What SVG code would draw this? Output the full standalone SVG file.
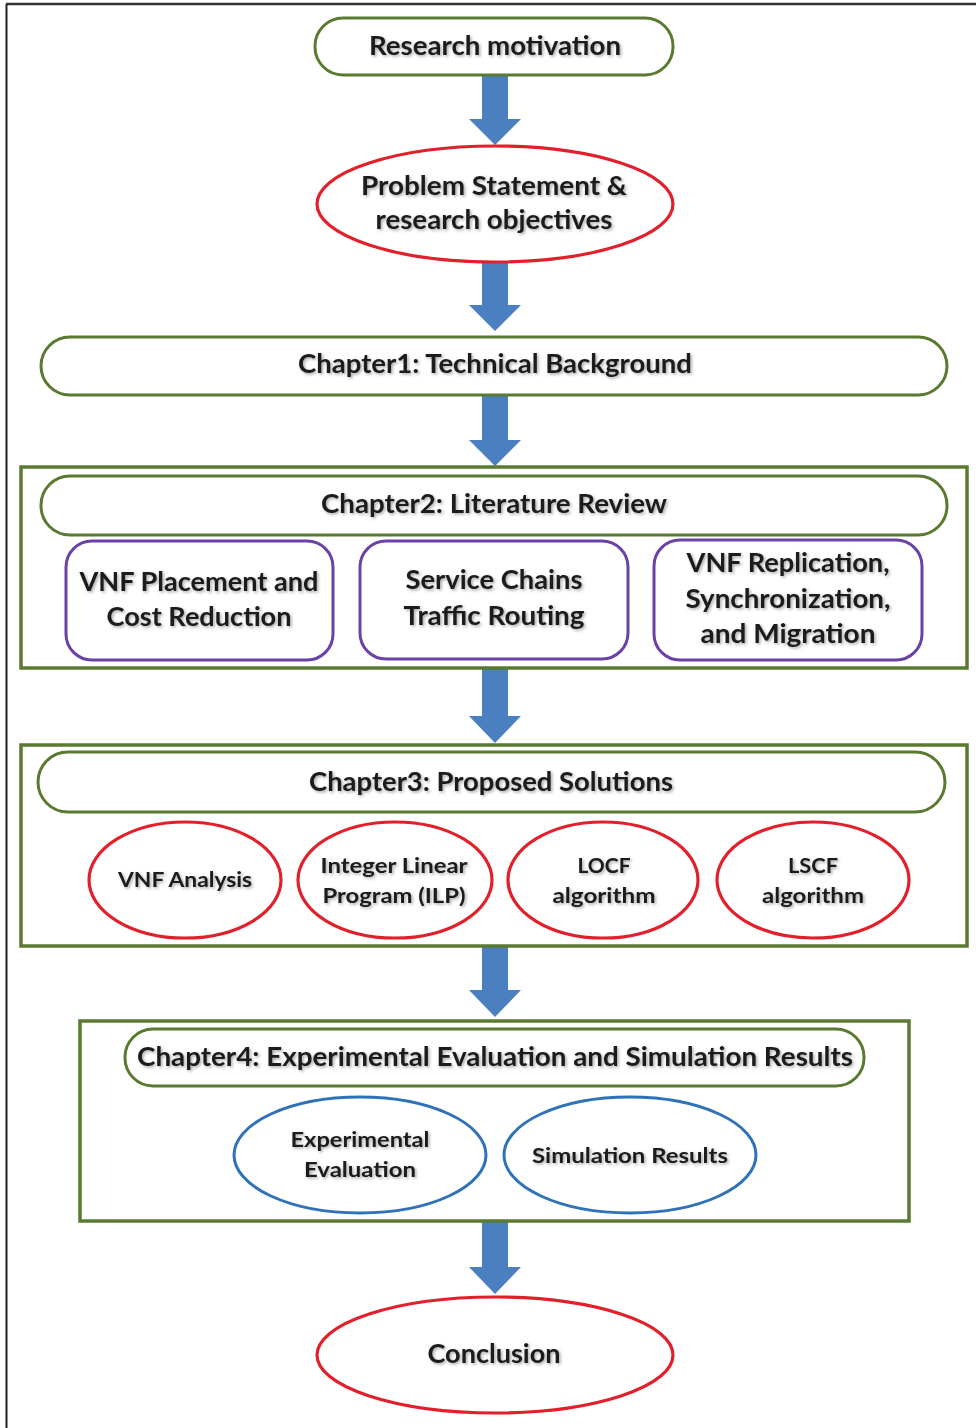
<svg xmlns="http://www.w3.org/2000/svg" width="976" height="1428" viewBox="0 0 976 1428">
<defs>
<filter id="sh" x="-10%" y="-30%" width="120%" height="160%">
<feDropShadow dx="1.5" dy="1.5" stdDeviation="1.5" flood-color="#000" flood-opacity="0.35"/>
</filter>
</defs>
<style>
.g{fill:#fff;stroke:#5a7a30;stroke-width:3}
.frame{fill:none;stroke:#5a7a30;stroke-width:3.5}
.r{fill:#fff;stroke:#e2202b;stroke-width:3.2}
.p{fill:#fff;stroke:#6a42a6;stroke-width:3}
.b{fill:#fff;stroke:#2f72b8;stroke-width:3}
.arr{fill:#4a7fc0}
text{font-family:"Lato","Liberation Sans",sans-serif;font-weight:bold;fill:#1a1a1a;text-anchor:middle;filter:url(#sh)}
.t26{font-size:26.5px}
.t21{font-size:21px}
</style>
<rect width="976" height="1428" fill="#fff"/>
<line x1="6" y1="4" x2="976" y2="4" stroke="#333" stroke-width="2.5"/>
<line x1="6.5" y1="4" x2="6.5" y2="1428" stroke="#222" stroke-width="2"/>

<g id="connectors">
<path class="arr" d="M482 75H508V119H521L495 145L469 119H482Z"/>
<path class="arr" d="M482 262H508V305H521L495 331L469 305H482Z"/>
<path class="arr" d="M482 395H508V440H521L495 466L469 440H482Z"/>
<path class="arr" d="M482 668H508V716H521L495 743L469 716H482Z"/>
<path class="arr" d="M482 946H508V990H521L495 1017L469 990H482Z"/>
<path class="arr" d="M482 1221H508V1267H521L495 1294L469 1267H482Z"/>
</g>

<g id="research-motivation">
<rect class="g" x="315" y="18" width="358" height="57" rx="28"/>
<text class="t26" x="495" y="55" textLength="252" lengthAdjust="spacingAndGlyphs">Research motivation</text>
</g>

<g id="problem-statement">
<ellipse class="r" cx="495" cy="204" rx="178" ry="58"/>
<text class="t26" x="494" y="195" textLength="266" lengthAdjust="spacingAndGlyphs">Problem Statement &amp;</text>
<text class="t26" x="494" y="229" textLength="237" lengthAdjust="spacingAndGlyphs">research objectives</text>
</g>

<g id="chapter1">
<rect class="g" x="41" y="337" width="906" height="58" rx="29"/>
<text class="t26" x="495" y="373" textLength="394" lengthAdjust="spacingAndGlyphs">Chapter1: Technical Background</text>
</g>

<g id="chapter2">
<rect class="frame" x="21" y="467" width="946" height="201"/>
<rect class="g" x="41" y="476" width="906" height="59" rx="29"/>
<text class="t26" x="494" y="513" textLength="346" lengthAdjust="spacingAndGlyphs">Chapter2: Literature Review</text>
</g>
<g id="vnf-placement">
<rect class="p" x="66" y="541" width="267" height="119" rx="26"/>
<text class="t26" x="199" y="591" textLength="239" lengthAdjust="spacingAndGlyphs">VNF Placement and</text>
<text class="t26" x="199" y="626" textLength="185" lengthAdjust="spacingAndGlyphs">Cost Reduction</text>
</g>
<g id="service-chains">
<rect class="p" x="360" y="541" width="268" height="118" rx="26"/>
<text class="t26" x="494" y="589" textLength="177" lengthAdjust="spacingAndGlyphs">Service Chains</text>
<text class="t26" x="494" y="625" textLength="181" lengthAdjust="spacingAndGlyphs">Traffic Routing</text>
</g>
<g id="vnf-replication">
<rect class="p" x="654" y="540" width="268" height="120" rx="26"/>
<text class="t26" x="788" y="572" textLength="203" lengthAdjust="spacingAndGlyphs">VNF Replication,</text>
<text class="t26" x="788" y="608" textLength="205" lengthAdjust="spacingAndGlyphs">Synchronization,</text>
<text class="t26" x="788" y="643" textLength="175" lengthAdjust="spacingAndGlyphs">and Migration</text>
</g>

<g id="chapter3">
<rect class="frame" x="21" y="745" width="946" height="201"/>
<rect class="g" x="38" y="752" width="907" height="60" rx="30"/>
<text class="t26" x="491" y="791" textLength="364" lengthAdjust="spacingAndGlyphs">Chapter3: Proposed Solutions</text>
</g>
<g id="vnf-analysis">
<ellipse class="r" cx="185" cy="880" rx="96" ry="58"/>
<text class="t21" x="185" y="887" textLength="134" lengthAdjust="spacingAndGlyphs">VNF Analysis</text>
</g>
<g id="ilp">
<ellipse class="r" cx="395" cy="880" rx="97" ry="58"/>
<text class="t21" x="394" y="873" textLength="147" lengthAdjust="spacingAndGlyphs">Integer Linear</text>
<text class="t21" x="394" y="903" textLength="143" lengthAdjust="spacingAndGlyphs">Program (ILP)</text>
</g>
<g id="locf">
<ellipse class="r" cx="603" cy="880" rx="95" ry="58"/>
<text class="t21" x="604" y="873" textLength="53" lengthAdjust="spacingAndGlyphs">LOCF</text>
<text class="t21" x="604" y="903" textLength="103" lengthAdjust="spacingAndGlyphs">algorithm</text>
</g>
<g id="lscf">
<ellipse class="r" cx="813" cy="880" rx="96" ry="58"/>
<text class="t21" x="813" y="873" textLength="50" lengthAdjust="spacingAndGlyphs">LSCF</text>
<text class="t21" x="813" y="903" textLength="102" lengthAdjust="spacingAndGlyphs">algorithm</text>
</g>

<g id="chapter4">
<rect class="frame" x="80" y="1021" width="829" height="200"/>
<rect class="g" x="125" y="1029" width="739" height="57" rx="28"/>
<text class="t26" x="495" y="1066" textLength="716" lengthAdjust="spacingAndGlyphs">Chapter4: Experimental Evaluation and Simulation Results</text>
</g>
<g id="experimental-evaluation">
<ellipse class="b" cx="360" cy="1155" rx="126" ry="58"/>
<text class="t21" x="360" y="1147" textLength="139" lengthAdjust="spacingAndGlyphs">Experimental</text>
<text class="t21" x="360" y="1177" textLength="112" lengthAdjust="spacingAndGlyphs">Evaluation</text>
</g>
<g id="simulation-results">
<ellipse class="b" cx="630" cy="1155" rx="126" ry="58"/>
<text class="t21" x="630" y="1163" textLength="196" lengthAdjust="spacingAndGlyphs">Simulation Results</text>
</g>

<g id="conclusion">
<ellipse class="r" cx="495" cy="1355" rx="178" ry="58"/>
<text class="t26" x="494" y="1363" textLength="133" lengthAdjust="spacingAndGlyphs">Conclusion</text>
</g>
</svg>
